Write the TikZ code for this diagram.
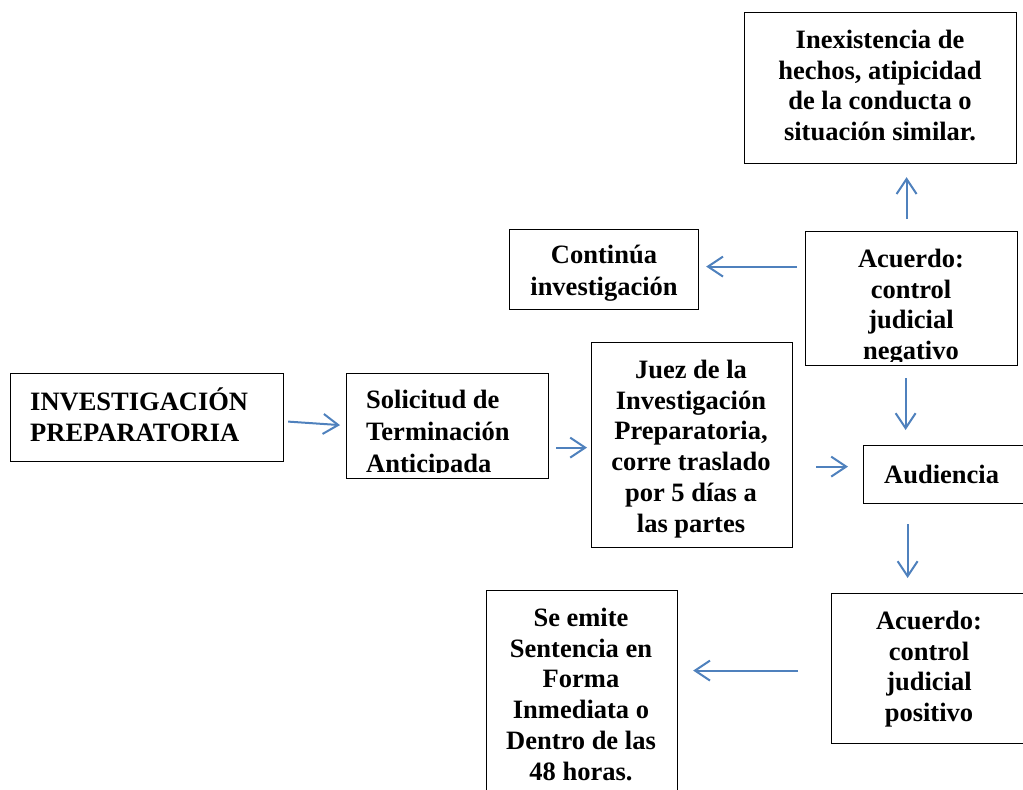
\documentclass[tikz,border=0pt]{standalone}
\usepackage{fontspec}
\setmainfont{Liberation Serif}
\usetikzlibrary{arrows.meta,calc}
\definecolor{arrblue}{RGB}{79,129,189}
\tikzset{
 box/.style={draw=black, line width=1.2pt, anchor=north west, inner sep=0pt},
 txt/.style={font=\fontsize{26.5}{30.7}\selectfont\bfseries, inner sep=0pt, align=center},
 arr/.style={draw=arrblue, line width=2pt, -{Straight Barb[length=15pt,width=20pt,line width=2pt]}}
}
\begin{document}
\begin{tikzpicture}[x=1pt,y=-1pt]
\useasboundingbox (0,0) rectangle (1023,790);
% boxes
\node[box, minimum width=273pt, minimum height=88pt] (b1) at (10,373) {};
\node[box, minimum width=202pt, minimum height=105pt] (b2) at (346,373) {};
\node[box, minimum width=201pt, minimum height=205pt] (b3) at (591,342) {};
\node[box, minimum width=189pt, minimum height=80pt] (b4) at (509,229) {};
\node[box, minimum width=212pt, minimum height=134pt] (b5) at (805,231) {};
\node[box, minimum width=272pt, minimum height=151pt] (b6) at (744,12) {};
\node[box, minimum width=177pt, minimum height=58pt] (b7) at (863,445) {};
\node[box, minimum width=209pt, minimum height=150pt] (b8) at (831,593) {};
\node[box, minimum width=191pt, minimum height=210pt] (b9) at (486,590) {};
% texts
\node[txt, align=left, anchor=west] (t1) at (30,415) {INVESTIGACIÓN\\PREPARATORIA};
\begin{scope}
\clip ($(b2.south west)+(0,-7)$) rectangle (b2.north east);
\node[txt, align=left, anchor=north west, font=\fontsize{26.5}{31.8}\selectfont\bfseries] (t2) at (366,390) {Solicitud de\\Terminación\\Anticipada};
\end{scope}
\node[txt, anchor=north] (t3) at (691,360) {Juez de la\\Investigación\\Preparatoria,\\corre traslado\\por 5 días a\\las partes};
\node[txt, anchor=north, font=\fontsize{26.5}{31.5}\selectfont\bfseries] (t4) at (604,245) {Continúa\\investigación};
\begin{scope}
\clip ($(b5.south west)+(0,-5)$) rectangle (b5.north east);
\node[txt, anchor=north] (t5) at (911,249) {Acuerdo:\\control\\judicial\\negativo};
\end{scope}
\node[txt, anchor=north] (t6) at (880,30) {Inexistencia de\\hechos, atipicidad\\de la conducta o\\situación similar.};
\node[txt, anchor=west] (t7) at (884,474) {Audiencia};
\node[txt, anchor=north] (t8) at (929,611) {Acuerdo:\\control\\judicial\\positivo};
\node[txt, anchor=north] (t9) at (581,608) {Se emite\\Sentencia en\\Forma\\Inmediata o\\Dentro de las\\48 horas.};
% arrows
\draw[arr] ($(b1.east)+(4,4)$) -- ($(b2.west)+(-6,-1)$);
\draw[arr] ($(b2.east)+(7,21.5)$) -- ($(b3.west)+(-4,2.5)$);
\draw[arr] ($(b3.east)+(23,21.5)$) -- ($(b7.west)+(-15,-8)$);
\draw[arr] ($(b5.south)+(-6,12)$) -- ($(b7.north)+(-46.5,-15)$);
\draw[arr] ($(b5.north)+(-5,-12)$) -- ($(b6.south)+(26,13)$);
\draw[arr] ($(b5.west)+(-8,-32)$) -- ($(b4.east)+(7,-3)$);
\draw[arr] ($(b7.south)+(-44.5,20)$) -- ($(b8.north)+(-28.5,-15)$);
\draw[arr] ($(b8.west)+(-33,2)$) -- ($(b9.east)+(15,-25)$);
\end{tikzpicture}
\end{document}
